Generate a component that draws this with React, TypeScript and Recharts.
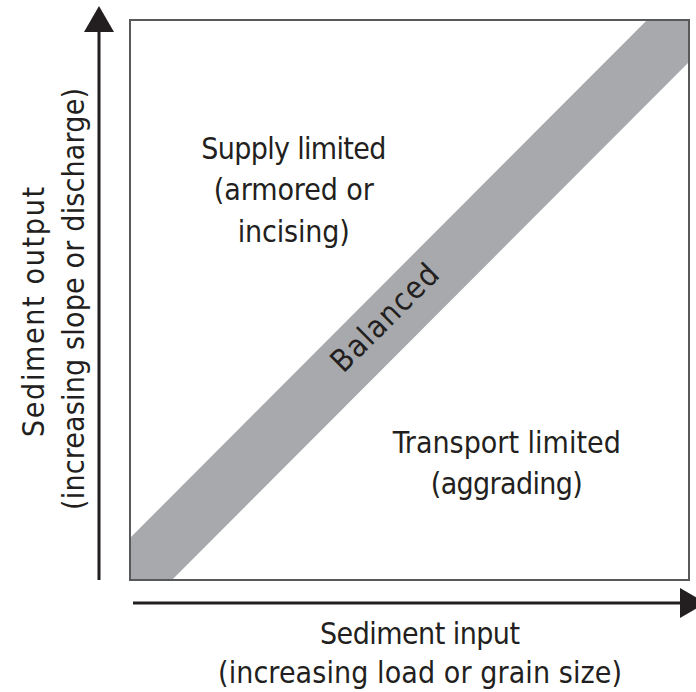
import React from "react";
import { ComposedChart, Area, Scatter, XAxis, YAxis, ReferenceArea, Customized } from "recharts";

// Balanced band: x positions and lower/upper bounds (percent of axis range)
const bandX = [0, 7.5, 92.5, 100];
const bandLow = [0, 0, 85, 92.5];
const bandHigh = [7.5, 15, 100, 100];

// Region annotations
const regionNames = ["Supply limited", "Transport limited", "Balanced"];
const regionLines = [
  ["Supply limited", "(armored or", "incising)"],
  ["Transport limited", "(aggrading)"],
  ["Balanced"],
];
const regionX = [29.3, 67.4, 46.9];
const regionY = [75.2, 22.7, 45.5];

// Axis titles
const xTitle = ["Sediment input", "(increasing load or grain size)"];
const yTitle = ["Sediment output", "(increasing slope or discharge)"];

const FONT = "'Liberation Sans Narrow', 'DejaVu Sans Condensed', 'Liberation Sans', sans-serif";
const INK = "#231f20";

const bandData = bandX.map((x, i) => ({ x, range: [bandLow[i], bandHigh[i]] }));
const labelData = regionNames.map((name, i) => ({ name, x: regionX[i], y: regionY[i], lines: regionLines[i] }));

const lineWidths: Record<string, number> = {
  "Supply limited": 185,
  "(armored or": 160,
  "incising)": 112,
  "Transport limited": 228,
  "(aggrading)": 152,
  "Balanced": 138,
};

const LabelShape = (props: any) => {
  const { cx, cy, payload } = props;
  if (payload.name === "Balanced") {
    return (
      <text
        x={cx}
        y={cy}
        textAnchor="middle"
        fontFamily={FONT}
        fontSize={31}
        fill={INK}
        transform={`rotate(-45 ${cx} ${cy})`}
        textLength={lineWidths["Balanced"]}
      >
        Balanced
      </text>
    );
  }
  return (
    <g>
      {payload.lines.map((l: string, i: number) => (
        <text
          key={i}
          x={cx}
          y={cy + i * 41.5}
          textAnchor="middle"
          fontFamily={FONT}
          fontSize={30}
          fill={INK}
          textLength={lineWidths[l]}
        >
          {l}
        </text>
      ))}
    </g>
  );
};

const Decorations = () => (
  <g>
    {/* vertical arrow */}
    <line x1={99} y1={580} x2={99} y2={28} stroke={INK} strokeWidth={3} />
    <polygon points="84,32 114,32 99,6" fill={INK} />
    {/* horizontal arrow */}
    <line x1={133} y1={603} x2={684} y2={603} stroke={INK} strokeWidth={3} />
    <polygon points="680,588 680,618 706,603" fill={INK} />
    {/* x title */}
    <text x={420} y={644} textAnchor="middle" fontFamily={FONT} fontSize={30} fill={INK} textLength={200}>
      {xTitle[0]}
    </text>
    <text x={420} y={683} textAnchor="middle" fontFamily={FONT} fontSize={30} fill={INK} textLength={404}>
      {xTitle[1]}
    </text>
    {/* y title */}
    <text x={44} y={312} textAnchor="middle" fontFamily={FONT} fontSize={30} fill={INK} textLength={250} transform="rotate(-90 44 312)">
      {yTitle[0]}
    </text>
    <text x={84} y={299} textAnchor="middle" fontFamily={FONT} fontSize={30} fill={INK} textLength={422} transform="rotate(-90 84 299)">
      {yTitle[1]}
    </text>
  </g>
);

export default function App() {
  return (
    <div style={{ position: "absolute", left: 0, top: 0, background: "#fff" }}>
      <ComposedChart width={696} height={692} margin={{ top: 20, right: 7, bottom: 112, left: 130 }}>
        <XAxis type="number" dataKey="x" domain={[0, 100]} hide allowDataOverflow />
        <YAxis type="number" dataKey="y" domain={[0, 100]} hide allowDataOverflow />
        <Area
          data={bandData}
          dataKey="range"
          type="linear"
          fill="#a7a9ac"
          fillOpacity={1}
          stroke="none"
          isAnimationActive={false}
          activeDot={false}
        />
        <ReferenceArea x1={0} x2={100} y1={0} y2={100} fill="none" stroke="#58595b" strokeWidth={2} />
        <Scatter data={labelData} dataKey="y" shape={LabelShape} isAnimationActive={false} />
        <Customized component={Decorations} />
      </ComposedChart>
    </div>
  );
}
